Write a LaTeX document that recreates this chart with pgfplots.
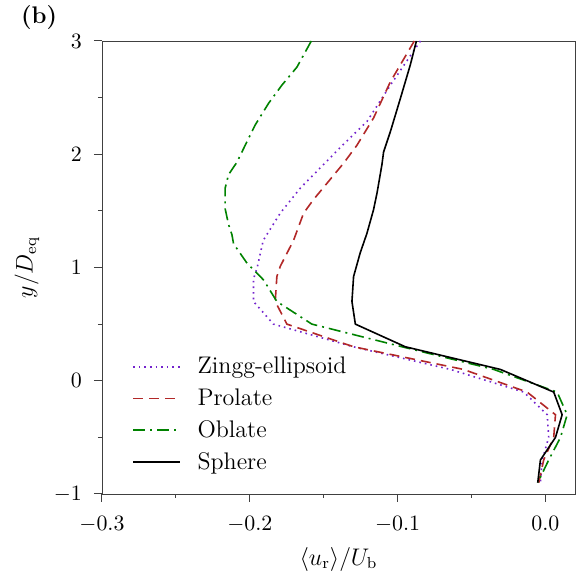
\documentclass[border=0pt]{standalone}
\usepackage{pgfplots}
\pgfplotsset{compat=1.18}
\definecolor{czingg}{RGB}{115,35,205}
\definecolor{cprolate}{RGB}{178,40,40}
\definecolor{coblate}{RGB}{0,130,0}
\begin{document}
\begin{tikzpicture}
\path[use as bounding box] (-51pt,-38.5pt) rectangle (238pt,247pt);
\begin{axis}[
  at={(0,0)}, anchor=south west, scale only axis,
  width=236.5pt, height=226.5pt,
  xmin=-0.3, xmax=0.02, ymin=-1, ymax=3,
  xtick={-0.3,-0.2,-0.1,0}, xticklabels={$-0.3$,$-0.2$,$-0.1$,$0.0$},
  minor xtick={-0.25,-0.15,-0.05},
  ytick={-1,0,1,2,3}, minor ytick={-0.5,0.5,1.5,2.5},
  tick align=outside, tick pos=left,
  major tick length=4pt, minor tick length=2pt,
  axis line style={black!75},
  every tick/.style={black!75, line width=0.5pt},
  tick label style={font=\fontsize{10.5}{12}\selectfont},
  xticklabel style={yshift=-3.5pt},
  yticklabel style={xshift=-2.5pt},
  label style={font=\fontsize{12}{14}\selectfont},
  xlabel={$\langle u_{\mathrm{r}}\rangle/U_{\mathrm{b}}$},
  ylabel={$y/D_{\mathrm{eq}}$},
  xlabel style={yshift=-0.8pt},
  ylabel style={yshift=0.5pt},
  legend cell align=left,
  legend image code/.code={\draw[#1] (0pt,0pt) -- (23.5pt,0pt);},
  legend style={at={(rel axis cs:0.0507,0.321)}, anchor=north west, draw=none, fill=none,
    font=\fontsize{12}{14}\selectfont, row sep=2pt, column sep=6.3pt},
  clip mode=individual,
]
\node[font=\fontsize{12}{14}\selectfont\bfseries] at (rel axis cs:-0.133,1.051) {(b)};
\addplot[czingg, line width=0.8pt, dotted] coordinates {
(-0.0846,3.00) (-0.1049,2.61) (-0.1207,2.29) (-0.1388,2.06) (-0.1659,1.70) (-0.1794,1.48)
(-0.1909,1.24) (-0.1950,1.00) (-0.1975,0.90) (-0.1975,0.70) (-0.1840,0.50)
(-0.1300,0.30) (-0.0643,0.10) (-0.0147,-0.10) (0.0012,-0.30) (0.0022,-0.50)
(-0.0022,-0.70) (-0.0034,-0.90)
};
\addlegendentry{Zingg-ellipsoid}
\addplot[cprolate, line width=0.8pt, dash pattern=on 5pt off 3pt] coordinates {
(-0.0887,3.00) (-0.1049,2.64) (-0.1163,2.32) (-0.1275,2.08) (-0.1366,1.92)
(-0.1569,1.60) (-0.1636,1.48) (-0.1704,1.24) (-0.1794,1.01) (-0.1817,0.92)
(-0.1828,0.70) (-0.1749,0.50) (-0.1298,0.30) (-0.0555,0.10) (-0.0124,-0.10)
(0.0068,-0.30) (0.0056,-0.50) (-0.0012,-0.70) (-0.0045,-0.90)
};
\addlegendentry{Prolate}
\addplot[coblate, line width=0.8pt, dash pattern=on 6pt off 2.5pt on 1pt off 2.5pt] coordinates {
(-0.1584,3.00) (-0.1681,2.77) (-0.1783,2.61) (-0.1873,2.45) (-0.1963,2.26)
(-0.2031,2.08) (-0.2087,1.93) (-0.2144,1.82) (-0.2167,1.70) (-0.2167,1.52)
(-0.2144,1.38) (-0.2121,1.29) (-0.2110,1.21) (-0.2020,1.04)
(-0.1907,0.89) (-0.1817,0.70) (-0.1580,0.50) (-0.0970,0.30) (-0.0350,0.10)
(0.0079,-0.10) (0.0147,-0.30) (0.0102,-0.50) (0.0022,-0.70) (-0.0052,-0.90)
};
\addlegendentry{Oblate}
\addplot[black, line width=0.8pt] coordinates {
(-0.0873,3.00) (-0.0914,2.79) (-0.0982,2.49) (-0.1049,2.20) (-0.1095,2.02)
(-0.1106,1.91) (-0.1139,1.66) (-0.1163,1.51) (-0.1208,1.30) (-0.1253,1.13)
(-0.1298,0.92) (-0.1309,0.70) (-0.1286,0.50) (-0.0948,0.30) (-0.0305,0.10)
(0.0056,-0.10) (0.0113,-0.30) (0.0068,-0.50) (-0.0034,-0.70) (-0.0052,-0.90)
};
\addlegendentry{Sphere}
\end{axis}
\end{tikzpicture}
\end{document}
